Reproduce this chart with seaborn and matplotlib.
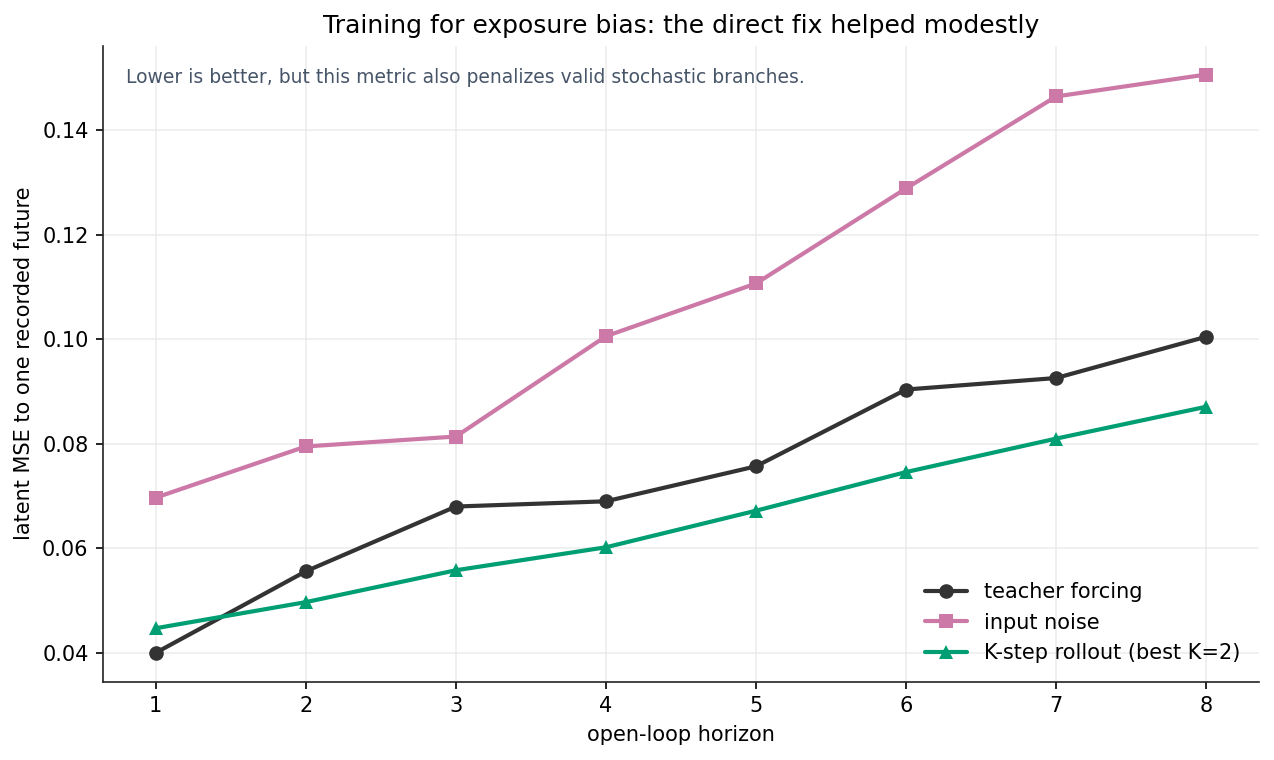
import numpy as np
import pandas as pd
import matplotlib
matplotlib.use("Agg")
import matplotlib.pyplot as plt
import seaborn as sns

horizon = [1, 2, 3, 4, 5, 6, 7, 8]
teacher_forcing = [0.0400, 0.0556, 0.0680, 0.0690, 0.0757, 0.0904, 0.0926, 0.1005]
input_noise = [0.0697, 0.0795, 0.0814, 0.1006, 0.1107, 0.1289, 0.1465, 0.1507]
k_step = [0.0447, 0.0497, 0.0558, 0.0602, 0.0672, 0.0746, 0.0810, 0.0871]

series = {
    "teacher forcing": (teacher_forcing, "#333333", "o"),
    "input noise": (input_noise, "#CC79A7", "s"),
    "K-step rollout (best K=2)": (k_step, "#009E73", "^"),
}

sns.set_style("ticks", {"axes.edgecolor": "#222222", "text.color": "black",
                        "axes.labelcolor": "black", "xtick.color": "black",
                        "ytick.color": "black"})
plt.rcParams["font.family"] = ["DejaVu Sans"]

fig, ax = plt.subplots(figsize=(1274 / 150, 760 / 150), dpi=150)

for name, (vals, color, marker) in series.items():
    df = pd.DataFrame({"h": horizon, "mse": vals})
    sns.lineplot(data=df, x="h", y="mse", ax=ax, color=color, marker=marker,
                 markersize=7, linewidth=2.0, markeredgewidth=0, label=name)

ax.grid(True, color="#e6e6e6", linewidth=0.8, alpha=0.7)
ax.set_axisbelow(True)
sns.despine(ax=ax)
ax.set_xticks(horizon)
ax.set_yticks([0.04, 0.06, 0.08, 0.10, 0.12, 0.14])
ax.yaxis.set_major_formatter(matplotlib.ticker.FormatStrFormatter("%.2f"))
ax.tick_params(labelsize=10)
ax.set_xlabel("open-loop horizon", fontsize=10)
ax.set_ylabel("latent MSE to one recorded future", fontsize=10)
ax.set_title("Training for exposure bias: the direct fix helped modestly", fontsize=12)
ax.text(0.02, 0.965, "Lower is better, but this metric also penalizes valid stochastic branches.",
        transform=ax.transAxes, fontsize=9, color="#475569", va="top", ha="left")
ax.legend(loc="lower right", frameon=False, fontsize=10)

fig.subplots_adjust(left=0.081, right=0.988, top=0.94, bottom=0.103)
fig.savefig("out.png", dpi=150)
